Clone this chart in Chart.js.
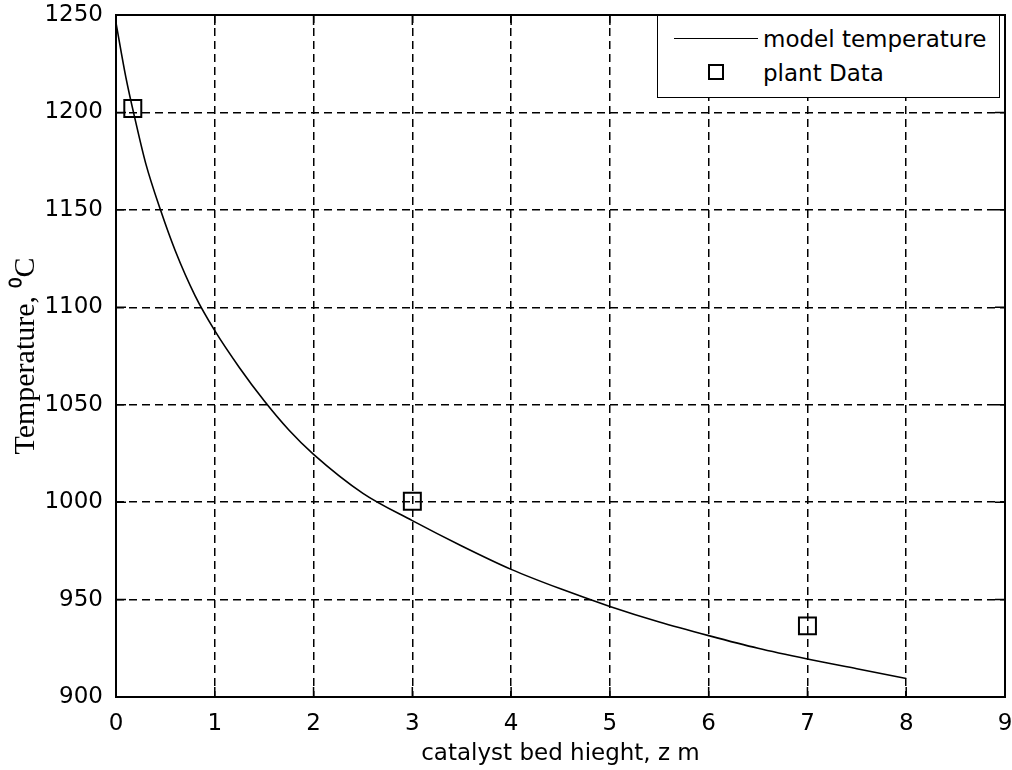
<!DOCTYPE html>
<html>
<head>
<meta charset="utf-8">
<title>Temperature vs catalyst bed height</title>
<script src="https://cdn.jsdelivr.net/npm/chart.js@4.4.1/dist/chart.umd.min.js"></script>
<style>
  body { margin: 0; background: #fff; overflow: hidden; }
  #wrap { position: relative; width: 1012px; height: 770px; }
  #chart { display: block; }
  #legend {
    position: absolute; left: 657px; top: 15px; width: 343px; height: 83px;
    box-sizing: border-box; border: 1.5px solid #000; background: #fff;
    font-family: "DejaVu Sans", sans-serif; font-size: 23px; color: #000;
  }
  .row { position: absolute; left: 0; right: 0; height: 30px; }
  .row span { position: absolute; left: 105px; top: 0; line-height: 30px; }
  .lineMark { position: absolute; left: 16px; top: 14px; width: 84px; border-top: 1.5px solid #000; }
  .boxMark { position: absolute; left: 50px; top: 6px; width: 16px; height: 16px; border: 2px solid #000; box-sizing: border-box; }
</style>
</head>
<body>
<div id="wrap">
  <canvas id="chart" width="1012" height="770"></canvas>
  <div id="legend">
    <div class="row" style="top:8px"><div class="lineMark"></div><span>model temperature</span></div>
    <div class="row" style="top:42px"><div class="boxMark"></div><span>plant Data</span></div>
  </div>
</div>
<script>
// model curve
const modelZ = [0, 0.1, 0.2, 0.3, 0.45, 0.6, 0.8, 1, 1.25, 1.5, 1.75, 2, 2.5, 3, 3.5, 4, 4.5, 5, 5.5, 6, 6.5, 7, 7.5, 8];
const modelT = [1246, 1218, 1195, 1174, 1150, 1129, 1106, 1088, 1069, 1052, 1037, 1024.5, 1004.5, 990.5, 977.5, 965.5, 955.5, 946.5, 938.5, 931.5, 925, 919.5, 914.5, 909.5];

// plant measurements
const plantZ = [0.17, 3, 7];
const plantT = [1202, 1000.5, 936.5];

const xTicks = [0, 1, 2, 3, 4, 5, 6, 7, 8, 9];
const yTicks = [900, 950, 1000, 1050, 1100, 1150, 1200, 1250];

// box round the plot + inward ticks, like the matlab figure
const framePlugin = {
  id: 'frame',
  afterDraw(chart) {
    const { ctx, chartArea: a, scales } = chart;
    ctx.save();
    ctx.strokeStyle = '#000';
    ctx.lineWidth = 1.5;
    ctx.beginPath();
    xTicks.forEach(v => {
      const px = scales.x.getPixelForValue(v);
      ctx.moveTo(px, a.bottom); ctx.lineTo(px, a.bottom - 10);
      ctx.moveTo(px, a.top); ctx.lineTo(px, a.top + 10);
    });
    yTicks.forEach(v => {
      const py = scales.y.getPixelForValue(v);
      ctx.moveTo(a.left, py); ctx.lineTo(a.left + 10, py);
      ctx.moveTo(a.right, py); ctx.lineTo(a.right - 10, py);
    });
    ctx.stroke();
    ctx.lineWidth = 2;
    ctx.strokeRect(a.left, a.top, a.right - a.left, a.bottom - a.top);
    ctx.restore();
  }
};

const sans = { family: '"DejaVu Sans", sans-serif', size: 23 };

new Chart(document.getElementById('chart').getContext('2d'), {
  type: 'line',
  data: {
    datasets: [
      {
        label: 'model temperature',
        data: modelZ.map((z, i) => ({ x: z, y: modelT[i] })),
        borderColor: '#000',
        borderWidth: 1.6,
        pointRadius: 0,
        cubicInterpolationMode: 'monotone',
        fill: false
      },
      {
        label: 'plant Data',
        data: plantZ.map((z, i) => ({ x: z, y: plantT[i] })),
        showLine: false,
        pointStyle: 'rect',
        pointRadius: 12,
        pointBorderWidth: 2,
        pointBorderColor: '#000',
        pointBackgroundColor: 'transparent'
      }
    ]
  },
  options: {
    responsive: false,
    animation: false,
    layout: { autoPadding: false, padding: { top: 15, right: 7, left: 0, bottom: 0 } },
    plugins: { legend: { display: false }, tooltip: { enabled: false } },
    scales: {
      x: {
        type: 'linear', min: 0, max: 9,
        afterBuildTicks: s => { s.ticks = xTicks.map(v => ({ value: v })); },
        afterFit: s => { s.height = 73; s.paddingLeft = 0; s.paddingRight = 0; },
        grid: { color: '#000', lineWidth: 1.5, drawTicks: false },
        border: { display: false, dash: [8, 5] },
        ticks: { color: '#000', font: sans, padding: 13, maxRotation: 0, callback: v => String(v) },
        title: { display: true, text: 'catalyst bed hieght, z m', color: '#000', font: sans, padding: { top: 0, bottom: 2 } }
      },
      y: {
        type: 'linear', min: 900, max: 1250,
        afterBuildTicks: s => { s.ticks = yTicks.map(v => ({ value: v })); },
        afterFit: s => { s.width = 116; s.paddingTop = 0; s.paddingBottom = 0; },
        grid: { color: '#000', lineWidth: 1.5, drawTicks: false },
        border: { display: false, dash: [8, 5] },
        ticks: { color: '#000', font: sans, padding: 13, callback: v => String(v) },
        title: { display: true, text: 'Temperature, \u2070C', color: '#000',
                 font: { family: '"Liberation Serif", serif', size: 30 }, padding: { top: 8, bottom: 0 } }
      }
    }
  },
  plugins: [framePlugin]
});
</script>
</body>
</html>
